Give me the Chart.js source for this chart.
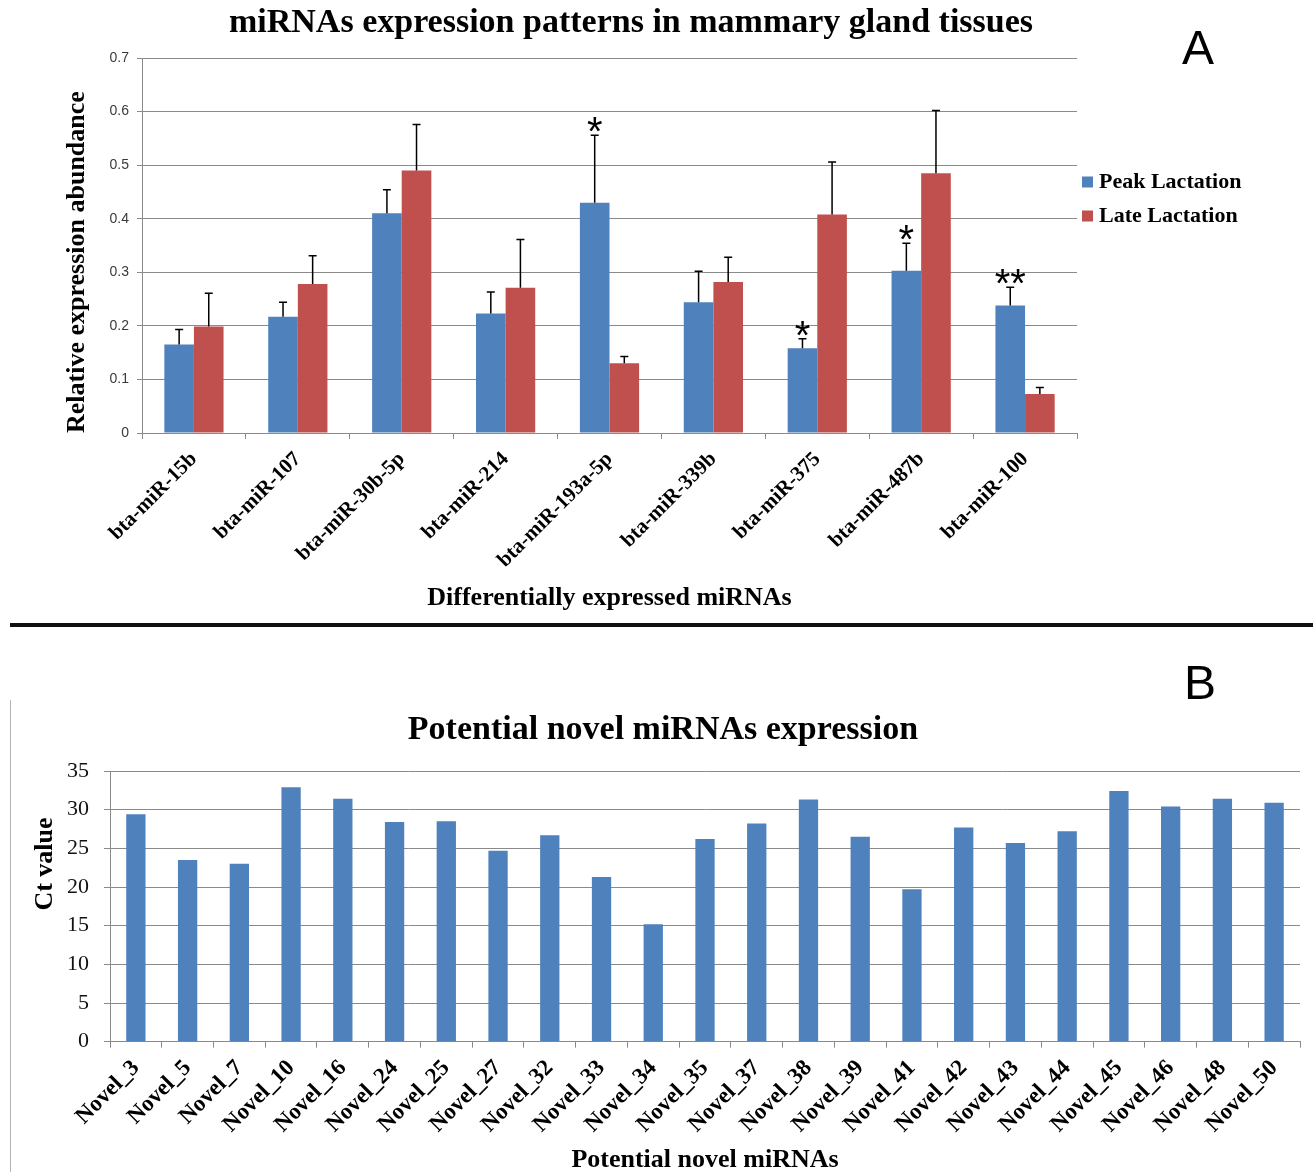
<!DOCTYPE html>
<html>
<head>
<meta charset="utf-8">
<title>miRNAs expression</title>
<script src="https://cdn.jsdelivr.net/npm/chart.js@4.4.0/dist/chart.umd.min.js"></script>
<style>
  html, body { margin: 0; padding: 0; background: #fff; overflow: hidden; }
  body { width: 1313px; height: 1172px; position: relative; }
  #chartA { position: absolute; left: 0; top: 0; }
  #chartB { position: absolute; left: 0; top: 640px; }
  .panel { position: absolute; font-family: 'Liberation Sans', Arial, sans-serif; font-size: 48px; line-height: 48px; color: #000; }
  #sep { position: absolute; left: 10px; top: 623px; width: 1303px; height: 4px; background: #111; }
  #frameB { position: absolute; left: 10px; top: 700px; width: 1px; height: 472px; background: #b4b4b4; }
</style>
</head>
<body>
<canvas id="chartA" width="1313" height="620"></canvas>
<div id="sep"></div>
<div id="frameB"></div>
<canvas id="chartB" width="1313" height="540"></canvas>
<div class="panel" style="left:1182px; top:24px;">A</div>
<div class="panel" style="left:1184px; top:659px;">B</div>
<script>
// panel A: differentially expressed miRNAs
const mirnaLabels = ['bta-miR-15b', 'bta-miR-107', 'bta-miR-30b-5p', 'bta-miR-214', 'bta-miR-193a-5p',
                     'bta-miR-339b', 'bta-miR-375', 'bta-miR-487b', 'bta-miR-100'];
const peakValues = [0.165, 0.217, 0.410, 0.223, 0.430, 0.244, 0.158, 0.303, 0.238];
const peakErrors = [0.028, 0.027, 0.044, 0.040, 0.126, 0.058, 0.018, 0.051, 0.034];
const lateValues = [0.199, 0.278, 0.490, 0.271, 0.130, 0.282, 0.408, 0.485, 0.073];
const lateErrors = [0.062, 0.053, 0.086, 0.090, 0.013, 0.046, 0.098, 0.117, 0.012];
const peakSignif = ['', '', '', '', '*', '', '*', '*', '**'];
const abundanceTicks = [0, 0.1, 0.2, 0.3, 0.4, 0.5, 0.6, 0.7];

// panel B: potential novel miRNAs
const novelLabels = ['Novel_3', 'Novel_5', 'Novel_7', 'Novel_10', 'Novel_16', 'Novel_24', 'Novel_25', 'Novel_27',
                     'Novel_32', 'Novel_33', 'Novel_34', 'Novel_35', 'Novel_37', 'Novel_38', 'Novel_39', 'Novel_41',
                     'Novel_42', 'Novel_43', 'Novel_44', 'Novel_45', 'Novel_46', 'Novel_48', 'Novel_50'];
const ctValues = [29.4, 23.5, 23.0, 32.9, 31.4, 28.4, 28.5, 24.7, 26.7, 21.3, 15.2, 26.2, 28.2, 31.3, 26.5,
                  19.7, 27.7, 25.7, 27.2, 32.4, 30.4, 31.4, 30.9];
const ctTicks = [0, 5, 10, 15, 20, 25, 30, 35];

const serif = "'Liberation Serif', 'Times New Roman', serif";
const sans = "'Liberation Sans', Arial, sans-serif";
const gridColor = '#8a8a8a';
const blue = '#4F81BD';
const red = '#C0504D';

// chart titles are not centred on the canvas in the original, so place them by hand
const panelTitle = {
    id: 'panelTitle',
    afterDraw(chart, args, opts) {
        const ctx = chart.ctx;
        ctx.save();
        ctx.fillStyle = '#000';
        ctx.font = 'bold ' + opts.size + 'px ' + serif;
        ctx.textAlign = 'center';
        ctx.textBaseline = 'middle';
        ctx.fillText(opts.text, opts.x, opts.y);
        ctx.restore();
    }
};

// error bars (upper only) + significance stars
const errorBars = {
    id: 'errorBars',
    afterDatasetsDraw(chart) {
        const ctx = chart.ctx;
        const y = chart.scales.y;
        chart.data.datasets.forEach((ds, i) => {
            const meta = chart.getDatasetMeta(i);
            meta.data.forEach((bar, j) => {
                const top = y.getPixelForValue(ds.data[j] + ds.errors[j]);
                ctx.save();
                ctx.strokeStyle = '#000';
                ctx.lineWidth = 1.5;
                ctx.beginPath();
                ctx.moveTo(bar.x, bar.y);
                ctx.lineTo(bar.x, top);
                ctx.moveTo(bar.x - 4, top);
                ctx.lineTo(bar.x + 4, top);
                ctx.stroke();
                if (ds.marks && ds.marks[j]) {
                    ctx.fillStyle = '#000';
                    ctx.font = '40px ' + sans;
                    ctx.textAlign = 'center';
                    ctx.textBaseline = 'alphabetic';
                    ctx.fillText(ds.marks[j], bar.x, top + 10);
                }
                ctx.restore();
            });
        });
    }
};

// legend on the right of panel A
const sideLegend = {
    id: 'sideLegend',
    afterDraw(chart) {
        const ctx = chart.ctx;
        const x = chart.chartArea.right + 5;
        chart.data.datasets.forEach((ds, i) => {
            const yc = 182 + i * 34;
            ctx.save();
            ctx.fillStyle = ds.backgroundColor;
            ctx.fillRect(x, yc - 5.5, 11, 11);
            ctx.fillStyle = '#000';
            ctx.font = 'bold 22px ' + serif;
            ctx.textAlign = 'left';
            ctx.textBaseline = 'middle';
            ctx.fillText(ds.label, x + 17, yc);
            ctx.restore();
        });
    }
};

new Chart(document.getElementById('chartA'), {
    type: 'bar',
    data: {
        labels: mirnaLabels,
        datasets: [
            { label: 'Peak Lactation', data: peakValues, errors: peakErrors, marks: peakSignif,
              backgroundColor: blue, categoryPercentage: 0.57, barPercentage: 1 },
            { label: 'Late Lactation', data: lateValues, errors: lateErrors,
              backgroundColor: red, categoryPercentage: 0.57, barPercentage: 1 }
        ]
    },
    options: {
        responsive: false,
        animation: false,
        layout: { padding: { left: 0, right: 236, top: 58, bottom: 0 } },
        plugins: {
            legend: { display: false },
            tooltip: { enabled: false },
            title: { display: false },
            panelTitle: { text: 'miRNAs expression patterns in mammary gland tissues', x: 631, y: 23, size: 34 }
        },
        scales: {
            x: {
                grid: { drawOnChartArea: false, drawTicks: true, tickLength: 6, color: gridColor, offset: true },
                border: { color: gridColor },
                ticks: { minRotation: 45, maxRotation: 45, color: '#000', padding: 8,
                         font: { family: serif, size: 21, weight: 'bold' } },
                title: { display: true, text: 'Differentially expressed miRNAs', color: '#000',
                         font: { family: serif, size: 26, weight: 'bold' }, padding: { top: 0, bottom: 6.4 } },
                afterFit: s => { s.height = 187; }
            },
            y: {
                min: 0,
                max: 0.7,
                afterBuildTicks: s => { s.ticks = abundanceTicks.map(v => ({ value: v })); },
                grid: { color: gridColor, tickLength: 5 },
                border: { color: gridColor },
                ticks: { color: '#3a3a3a', padding: 8, font: { family: sans, size: 14 },
                         callback: v => String(+v.toFixed(1)) },
                title: { display: true, text: 'Relative expression abundance', align: 'start', color: '#000',
                         font: { family: serif, size: 26, weight: 'bold' }, padding: { top: 62, bottom: 0 } },
                afterFit: s => { s.width = 142; }
            }
        }
    },
    plugins: [panelTitle, errorBars, sideLegend]
});

// y title of panel B sits above the middle of the axis
const ctTitle = {
    id: 'ctTitle',
    afterDraw(chart) {
        const ctx = chart.ctx;
        ctx.save();
        ctx.translate(chart.chartArea.left - 65, chart.chartArea.top + 93);
        ctx.rotate(-Math.PI / 2);
        ctx.fillStyle = '#000';
        ctx.font = 'bold 26px ' + serif;
        ctx.textAlign = 'center';
        ctx.textBaseline = 'middle';
        ctx.fillText('Ct value', 0, 0);
        ctx.restore();
    }
};

new Chart(document.getElementById('chartB'), {
    type: 'bar',
    data: {
        labels: novelLabels,
        datasets: [
            { label: 'Ct value', data: ctValues, backgroundColor: blue, categoryPercentage: 1, barPercentage: 0.373 }
        ]
    },
    options: {
        responsive: false,
        animation: false,
        layout: { padding: { left: 0, right: 13, top: 131, bottom: 0 } },
        plugins: {
            legend: { display: false },
            tooltip: { enabled: false },
            title: { display: false },
            panelTitle: { text: 'Potential novel miRNAs expression', x: 663, y: 90, size: 34 }
        },
        scales: {
            x: {
                grid: { drawOnChartArea: false, drawTicks: true, tickLength: 6, color: gridColor, offset: true },
                border: { color: gridColor },
                ticks: { minRotation: 45, maxRotation: 45, color: '#000', padding: 7,
                         font: { family: serif, size: 23, weight: 'bold' } },
                title: { display: true, text: 'Potential novel miRNAs', color: '#000',
                         font: { family: serif, size: 26, weight: 'bold' }, padding: { top: 0, bottom: 4.4 } },
                afterFit: s => { s.height = 138.3; }
            },
            y: {
                min: 0,
                max: 35,
                afterBuildTicks: s => { s.ticks = ctTicks.map(v => ({ value: v })); },
                grid: { color: gridColor, tickLength: 6 },
                border: { color: gridColor },
                ticks: { color: '#111', padding: 15, font: { family: serif, size: 22 } },
                afterFit: s => { s.width = 110; }
            }
        }
    },
    plugins: [panelTitle, ctTitle]
});
</script>
</body>
</html>
